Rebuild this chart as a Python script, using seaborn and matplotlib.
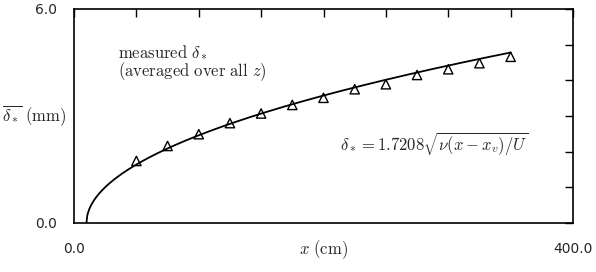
import numpy as np
import pandas as pd
import matplotlib
matplotlib.use("Agg")
import matplotlib.pyplot as plt
import seaborn as sns

x_meas = [50, 75, 100, 125, 150, 175, 200, 225, 250, 275, 300, 325, 350]
d_meas = [1.74, 2.16, 2.49, 2.80, 3.07, 3.31, 3.51, 3.75, 3.89, 4.15, 4.31, 4.48, 4.66]

# fit: delta* = 1.7208 sqrt(nu (x - x_v) / U)
coef = 1.7208
nu = 0.15      # cm^2/s
U = 661.0      # cm/s
x_v = 10.0     # cm
x_end = 350.0

x_ticks = [0, 50, 100, 150, 200, 250, 300, 350, 400]
y_ticks = [0, 1, 2, 3, 4, 5, 6]
x_ticklabels = ["0.0", "", "", "", "", "", "", "", "400.0"]
y_ticklabels = ["0.0", "", "", "", "", "", "6.0"]

sns.set_style("white")
plt.rcParams["mathtext.fontset"] = "cm"
plt.rcParams["font.family"] = ["DejaVu Sans"]

xf = np.linspace(x_v, x_end, 600)
df_fit = pd.DataFrame({"x": xf, "d": 10.0 * coef * np.sqrt(nu * (xf - x_v) / U)})
df_meas = pd.DataFrame({"x": x_meas, "d": d_meas})

fig = plt.figure(figsize=(5.96, 2.72), dpi=100)
ax = fig.add_axes([74 / 596, 1 - 223 / 272, (573 - 74) / 596, (223 - 9) / 272])

sns.lineplot(data=df_fit, x="x", y="d", ax=ax, color="black", lw=1.3, sort=False)
sns.scatterplot(data=df_meas, x="x", y="d", ax=ax, marker="^", s=45,
                facecolor="none", edgecolor="black", linewidth=1.0, zorder=5)

ax.set_xlim(0, 400)
ax.set_ylim(0, 6)
ax.set_xticks(x_ticks)
ax.set_xticklabels(x_ticklabels)
ax.set_yticks(y_ticks)
ax.set_yticklabels(y_ticklabels)
ax.tick_params(direction="in", length=6, width=1.0, top=True, right=True,
               labelsize=10, color="black")
ax.tick_params(axis="x", pad=14)
ax.tick_params(axis="y", pad=12)
for s in ax.spines.values():
    s.set_color("black")
    s.set_linewidth(1.2)

ax.set_xlabel(r"$x\ \mathrm{(cm)}$", fontsize=12, labelpad=-13)
ax.set_ylabel("")
fig.text(2 / 596, 1 - 116 / 272, r"$\overline{\delta_*}\ \mathrm{(mm)}$",
         fontsize=12, va="center", ha="left")

ax.text(35, 4.79, r"$\mathrm{measured}\ \delta_*$", fontsize=12, va="center")
ax.text(35, 4.23, r"$\mathrm{(averaged\ over\ all}\ z\mathrm{)}$", fontsize=12, va="center")
ax.text(213, 2.2, r"$\delta_* = 1.7208\sqrt{\nu(x - x_v)/U}$", fontsize=12, va="center")

fig.savefig("out.png", dpi=100)
